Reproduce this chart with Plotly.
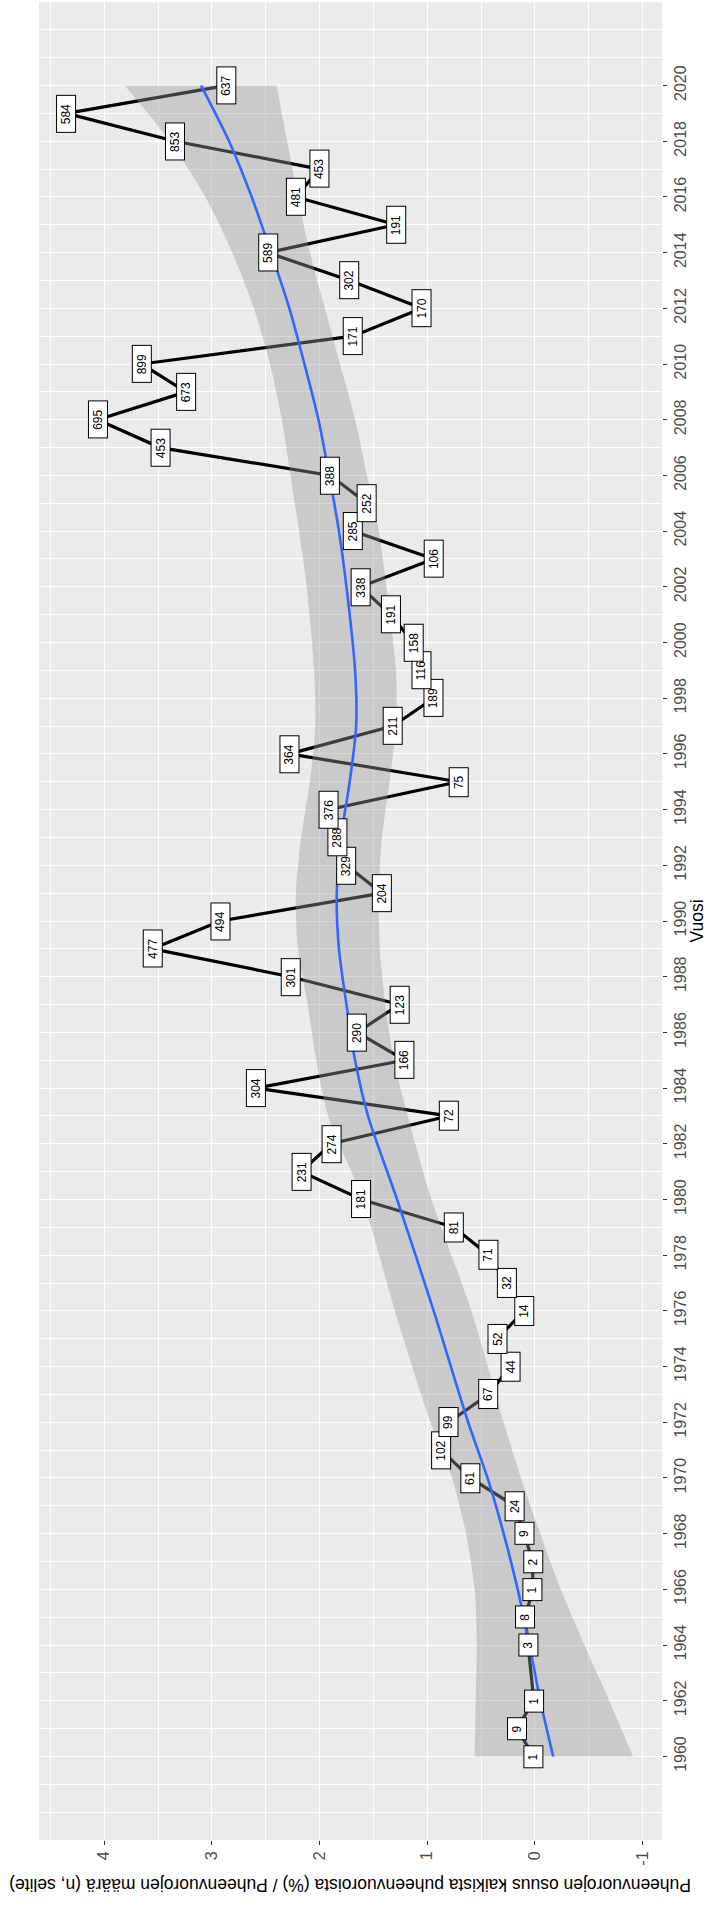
import plotly.graph_objects as go

# ---- data -------------------------------------------------------------
years = [1960, 1961, 1962, 1964, 1965, 1966, 1967, 1968, 1969, 1970,
         1971, 1972, 1973, 1974, 1975, 1976, 1977, 1978, 1979, 1980,
         1981, 1982, 1983, 1984, 1985, 1986, 1987, 1988, 1989, 1990,
         1991, 1992, 1993, 1994, 1995, 1996, 1997, 1998, 1999, 2000,
         2001, 2002, 2003, 2004, 2005, 2006, 2007, 2008, 2009, 2010,
         2011, 2012, 2013, 2014, 2015, 2016, 2017, 2018, 2019, 2020]
share = [0.01, 0.17, 0.01, 0.06, 0.09, 0.02, 0.02, 0.10, 0.19, 0.60,
         0.87, 0.80, 0.43, 0.23, 0.35, 0.10, 0.26, 0.43, 0.75, 1.61,
         2.17, 1.89, 0.80, 2.59, 1.21, 1.65, 1.26, 2.27, 3.55, 2.92,
         1.42, 1.75, 1.83, 1.92, 0.71, 2.28, 1.32, 0.94, 1.05, 1.13,
         1.34, 1.62, 0.94, 1.69, 1.56, 1.90, 3.48, 4.06, 3.24, 3.65,
         1.69, 1.05, 1.72, 2.48, 1.29, 2.22, 2.00, 3.34, 4.35, 2.87]
count = [1, 9, 1, 3, 8, 1, 2, 9, 24, 61,
         102, 99, 67, 44, 52, 14, 32, 71, 81, 181,
         231, 274, 72, 304, 166, 290, 123, 301, 477, 494,
         204, 329, 288, 376, 75, 364, 211, 189, 116, 158,
         191, 338, 106, 285, 252, 388, 453, 695, 673, 899,
         171, 170, 302, 589, 191, 481, 453, 853, 584, 637]

smooth_years = [1960, 1962, 1964, 1966, 1968, 1970, 1972, 1976, 1980, 1983,
                1985, 1987, 1989, 1991, 1993, 1995, 1997, 1999, 2002, 2004,
                2006, 2008, 2010, 2012, 2014, 2016, 2018, 2020]
smooth_fit = [-0.17, -0.05, 0.05, 0.16, 0.29, 0.44, 0.62, 0.94, 1.28, 1.55,
              1.67, 1.75, 1.82, 1.84, 1.80, 1.72, 1.66, 1.67, 1.75, 1.82,
              1.91, 2.01, 2.14, 2.28, 2.45, 2.63, 2.84, 3.10]
smooth_upper = [0.56, 0.55, 0.54, 0.56, 0.64, 0.77, 0.97, 1.30, 1.60, 1.92,
                2.03, 2.11, 2.20, 2.22, 2.17, 2.09, 2.04, 2.05, 2.12, 2.19,
                2.27, 2.35, 2.46, 2.61, 2.81, 3.06, 3.39, 3.81]
smooth_lower = [-0.91, -0.69, -0.46, -0.24, -0.05, 0.13, 0.29, 0.59, 0.96, 1.18,
                1.31, 1.39, 1.44, 1.45, 1.42, 1.35, 1.29, 1.29, 1.38, 1.45,
                1.56, 1.67, 1.81, 1.95, 2.09, 2.20, 2.30, 2.40]

x_ticks = [4, 3, 2, 1, 0, -1]
y_ticks = list(range(1960, 2021, 2))

x_title = "Puheenvuorojen osuus kaikista puheenvuoroista (%) / Puheenvuorojen määrä (n, selite)"
y_title = "Vuosi"

FONT = "Liberation Sans, Arial, Helvetica, sans-serif"

fig = go.Figure()

# black data line (drawn first, ribbon overlays it)
fig.add_trace(go.Scatter(x=share, y=years, mode="lines",
                         line=dict(color="black", width=3.2),
                         hoverinfo="skip", showlegend=False))

# confidence ribbon
fig.add_trace(go.Scatter(x=smooth_lower, y=smooth_years, mode="lines",
                         line=dict(width=0, shape="spline", smoothing=0.8),
                         hoverinfo="skip", showlegend=False))
fig.add_trace(go.Scatter(x=smooth_upper, y=smooth_years, mode="lines",
                         line=dict(width=0, shape="spline", smoothing=0.8),
                         fill="tonextx", fillcolor="rgba(153,153,153,0.4)",
                         hoverinfo="skip", showlegend=False))

# smooth fit
fig.add_trace(go.Scatter(x=smooth_fit, y=smooth_years, mode="lines",
                         line=dict(color="#3366FF", width=2.6, shape="spline", smoothing=0.8),
                         hoverinfo="skip", showlegend=False))

annotations = []
for s, yv, c in zip(share, years, count):
    txt = str(c)
    annotations.append(dict(
        x=s, y=yv, xref="x", yref="y", text=txt, showarrow=False,
        textangle=-90, font=dict(family=FONT, size=12, color="black"),
        bgcolor="white", bordercolor="black", borderwidth=1, borderpad=2,
        width=7.5 * len(txt) + 9, height=14,
        xanchor="center", yanchor="middle"))

annotations.append(dict(
    x=0.5, y=-0.0245, xref="paper", yref="paper", text=x_title, showarrow=False,
    textangle=180, font=dict(family=FONT, size=17.5, color="black"),
    xanchor="center", yanchor="middle"))

fig.update_layout(
    width=707, height=1910,
    margin=dict(l=39, r=45, t=2, b=70),
    paper_bgcolor="white", plot_bgcolor="#EBEBEB",
    annotations=annotations,
    showlegend=False,
    font=dict(family=FONT),
)

fig.update_xaxes(
    range=[4.605, -1.18], tickvals=x_ticks, ticktext=[str(v) for v in x_ticks],
    tickangle=-90, tickfont=dict(family=FONT, size=16, color="#4D4D4D"),
    ticks="outside", ticklen=4, tickcolor="#333333", tickwidth=1,
    showgrid=True, gridcolor="white", gridwidth=1.3, zeroline=False,
    minor=dict(dtick=0.5, tick0=0, showgrid=True, gridcolor="white", gridwidth=0.6, ticks=""),
    showline=False, fixedrange=True,
)
fig.update_yaxes(
    range=[1957, 2023], side="right", tickvals=y_ticks,
    ticktext=[str(v) for v in y_ticks],
    tickangle=-90, tickfont=dict(family=FONT, size=16, color="#4D4D4D"),
    ticks="outside", ticklen=4, tickcolor="#333333", tickwidth=1,
    showgrid=True, gridcolor="white", gridwidth=1.3, zeroline=False,
    minor=dict(dtick=1, tick0=1957, showgrid=True, gridcolor="white", gridwidth=0.6, ticks=""),
    showline=False, fixedrange=True,
    title=dict(text=y_title, font=dict(family=FONT, size=17.5, color="black"), standoff=3),
    automargin=False,
)

fig.write_html(
    "out.html",
    config={"displayModeBar": False},
    post_script="document.body.style.margin='0';document.body.style.padding='0';"
                "document.body.style.overflow='hidden';"
                "document.documentElement.style.overflow='hidden';",
)
